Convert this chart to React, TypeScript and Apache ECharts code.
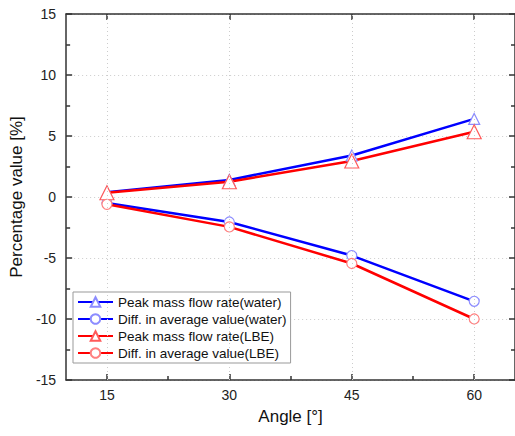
import React, { useEffect, useRef } from "react";
import * as echarts from "echarts";

const angles = [15, 30, 45, 60];
const peakWater = [0.4, 1.4, 3.4, 6.4];
const diffWater = [-0.5, -2.05, -4.8, -8.55];
const peakLBE = [0.35, 1.25, 2.95, 5.35];
const diffLBE = [-0.6, -2.45, -5.45, -10.0];
const xTicks = [15, 30, 45, 60];
const xMinorTicks = [22.5, 37.5, 52.5];

const FONT = "Liberation Sans, Arial, sans-serif";

export default function App() {
  const ref = useRef<HTMLDivElement>(null);
  useEffect(() => {
    const chart = echarts.init(ref.current!, null, { renderer: "svg" });
    const pair = (ys: number[]) => angles.map((a, i) => [a, ys[i]]);
    const mk = (
      name: string,
      ys: number[],
      color: string,
      markColor: string,
      symbol: string,
      size: number
    ) => ({
      name,
      type: "line",
      data: pair(ys),
      symbol,
      symbolSize: size,
      showAllSymbol: true,
      lineStyle: { color, width: 2.5 },
      itemStyle: { color: "#ffffff", borderColor: markColor, borderWidth: 1.2 },
      z: 3,
    });
    const axisLine = { show: true, onZero: false, lineStyle: { color: "#333", width: 1.5 } };
    const tickStyle = { color: "#333", width: 1.5 };
    chart.setOption({
      animation: false,
      backgroundColor: "#ffffff",
      grid: { left: 62, top: 14, width: 454, bottom: 56 },
      legend: {
        orient: "vertical",
        left: 73,
        top: 292,
        padding: [3, 4, 3, 4],
        itemGap: 3,
        itemWidth: 35,
        itemHeight: 12,
        itemTextGap: 3,
        borderColor: "#999",
        borderWidth: 1,
        backgroundColor: "#fff",
        textStyle: { fontFamily: FONT, fontSize: 13.5, color: "#111" },
        data: [
          "Peak mass flow rate(water)",
          "Diff. in average value(water)",
          "Peak mass flow rate(LBE)",
          "Diff. in average value(LBE)",
        ],
      },
      xAxis: [
        {
          type: "value",
          min: 10,
          max: 65,
          name: "Angle [°]",
          nameLocation: "middle",
          nameGap: 28,
          nameTextStyle: { fontFamily: FONT, fontSize: 17, color: "#111" },
          axisLine,
          axisTick: { inside: true, length: 6, customValues: xTicks, lineStyle: tickStyle },
          axisLabel: { customValues: xTicks, fontFamily: FONT, fontSize: 14, color: "#222", margin: 8 },
          splitLine: { show: false },
        },
        {
          type: "value",
          min: 10,
          max: 65,
          position: "bottom",
          axisLine: { show: false, onZero: false },
          axisTick: { inside: true, length: 4, customValues: xMinorTicks, lineStyle: tickStyle },
          axisLabel: { show: false },
          splitLine: { show: false },
        },
        {
          type: "value",
          min: 10,
          max: 65,
          position: "top",
          axisLine,
          axisTick: { inside: true, length: 6, customValues: xTicks, lineStyle: tickStyle },
          axisLabel: { show: false },
          splitLine: { show: false },
        },
      ],
      yAxis: [
        {
          type: "value",
          min: -15,
          max: 15,
          interval: 5,
          name: "Percentage value [%]",
          nameLocation: "middle",
          nameGap: 38,
          nameTextStyle: { fontFamily: FONT, fontSize: 17, color: "#111" },
          axisLine,
          axisTick: { inside: true, length: 6, lineStyle: tickStyle },
          minorTick: { show: true, splitNumber: 2, length: 4, lineStyle: tickStyle },
          axisLabel: { fontFamily: FONT, fontSize: 14, color: "#222", margin: 10 },
          splitLine: { show: true, lineStyle: { color: "#ccc", type: [1, 3], width: 1 } },
        },
        {
          type: "value",
          min: -15,
          max: 15,
          interval: 5,
          position: "right",
          axisLine,
          axisTick: { inside: true, length: 6, lineStyle: tickStyle },
          minorTick: { show: true, splitNumber: 2, length: 4, lineStyle: tickStyle },
          axisLabel: { show: false },
          splitLine: { show: false },
        },
      ],
      series: [
        {
          name: "grid-x",
          type: "line",
          data: [],
          z: 1,
          silent: true,
          markLine: {
            silent: true,
            symbol: ["none", "none"],
            label: { show: false },
            lineStyle: { color: "#ccc", type: [1, 3], width: 1 },
            data: xTicks.map((v) => ({ xAxis: v })),
          },
        },
        mk("Peak mass flow rate(water)", peakWater, "#0000ff", "#8c8cff", "triangle", 11),
        mk("Diff. in average value(water)", diffWater, "#0000ff", "#8c8cff", "circle", 10),
        mk("Peak mass flow rate(LBE)", peakLBE, "#ff0000", "#ff5a5a", "triangle", 14),
        mk("Diff. in average value(LBE)", diffLBE, "#ff0000", "#ff8080", "circle", 10),
      ],
    });
    return () => chart.dispose();
  }, []);
  return (
    <div
      ref={ref}
      style={{ position: "fixed", left: 0, top: 0, width: 515, height: 436 }}
    />
  );
}
